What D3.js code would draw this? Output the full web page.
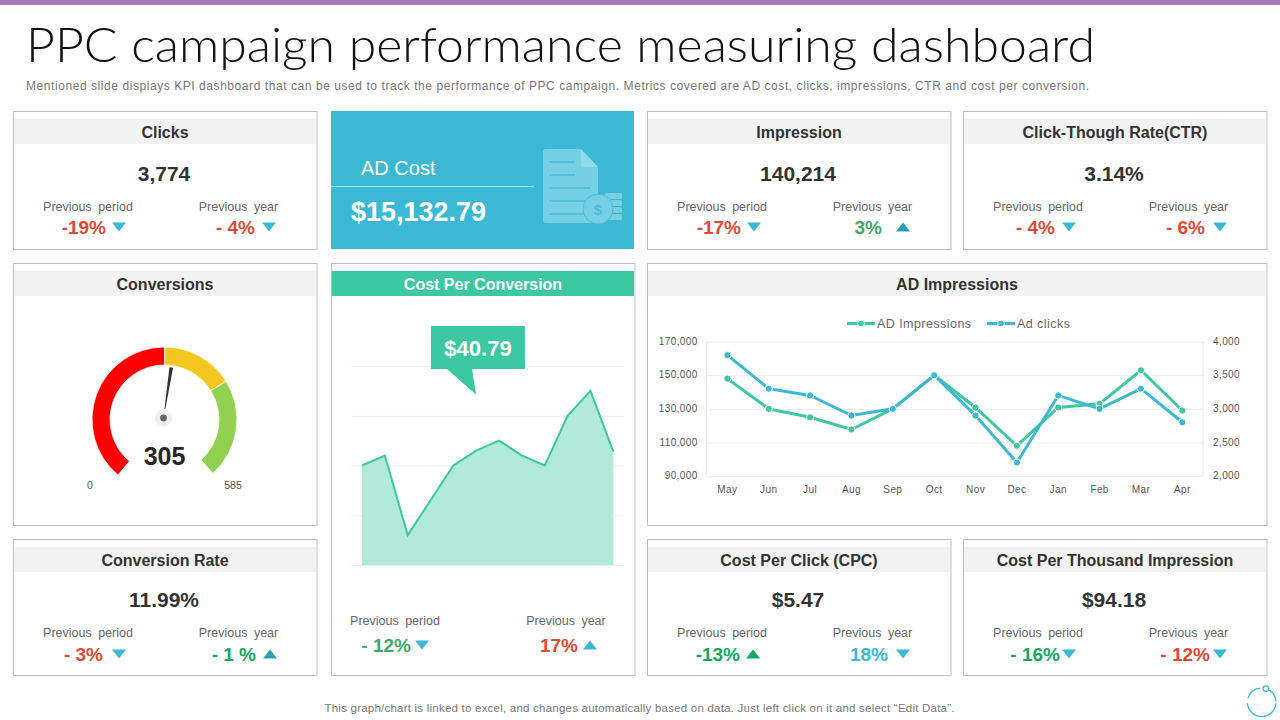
<!DOCTYPE html>
<html>
<head>
<meta charset="utf-8">
<script src="https://cdn.jsdelivr.net/npm/d3@7"></script>
<style>
	html, body { margin: 0; padding: 0; background: #fff; }
	svg { display: block; }
	text { font-family: "Liberation Sans", Arial, sans-serif; }
	.small-tick text { font-size: 10px; fill: #555; letter-spacing: .4px; }
</style>
</head>
<body>
<div id="chart"></div>
<script>
// KPI cards
const kpiTitles = ["Clicks", "Impression", "Click-Though Rate(CTR)", "Conversion Rate", "Cost Per Click (CPC)", "Cost Per Thousand Impression"];
const kpiValues = ["3,774", "140,214", "3.14%", "11.99%", "$5.47", "$94.18"];
const periodChange = ["-19%", "-17%", "- 4%", "- 3%", "-13%", "- 16%"];
const yearChange = ["- 4%", "3%", "- 6%", "- 1 %", "18%", "- 12%"];
const periodArrow = ["down", "down", "down", "down", "up", "down"];
const yearArrow = ["down", "up", "down", "up", "down", "down"];

// gauge
const gaugeSegments = [295, 122, 168];
const gaugeMax = 585;
const gaugeValue = 305;
const gaugeNeedle = 313; // where the needle actually sits in the picture

// cost per conversion area
const costPerConversion = [20, 22, 6, 13, 20, 23, 25, 22, 20, 30, 35, 22.8];
const costTicks = [0, 10, 20, 30, 40];

// ad impressions chart
const months = ["May", "Jun", "Jul", "Aug", "Sep", "Oct", "Nov", "Dec", "Jan", "Feb", "Mar", "Apr"];
const adImpressions = [148000, 130000, 125000, 117700, 130000, 150000, 130800, 108000, 130800, 133000, 153000, 129000];
const adClicks = [3800, 3300, 3200, 2900, 3000, 3500, 2900, 2200, 3200, 3000, 3300, 2800];
const impressionTicks = [90000, 110000, 130000, 150000, 170000];
const clickTicks = [2000, 2500, 3000, 3500, 4000];

const teal = "#3cc8a1", blue = "#3bb9d4", red = "#df4a32", green = "#12a85f", lime = "#3fa966";
const arrowUpDark = "#2a9fbb";

const svg = d3.select("#chart").append("svg")
	.attr("width", 1280)
	.attr("height", 720);

// top band and heading
svg.append("rect").attr("width", 1280).attr("height", 5).attr("fill", "#a57cb9");
svg.append("text").text("PPC campaign performance measuring dashboard")
	.attr("x", 26).attr("y", 62)
	.attr("textLength", 1069).attr("lengthAdjust", "spacingAndGlyphs")
	.style("font-family", "Lato").style("font-weight", 300)
	.style("font-size", "47px").attr("fill", "#111");
svg.append("text").text("Mentioned slide displays KPI dashboard that can be used to track the performance of PPC campaign. Metrics covered are AD cost, clicks, impressions, CTR and cost per conversion.")
	.attr("x", 26).attr("y", 90)
	.attr("textLength", 1063)
	.style("font-size", "12px").attr("fill", "#777");

function card(x, y, w, h) {
	svg.append("rect").attr("x", x + .5).attr("y", y + .5).attr("width", w).attr("height", h)
		.attr("fill", "#fff").attr("stroke", "#bfbfbf").attr("stroke-width", 1);
}

function header(x, y, w, title, bg, color) {
	svg.append("rect").attr("x", x + 1).attr("y", y + 8).attr("width", w - 1).attr("height", 25).attr("fill", bg || "#f2f2f2");
	svg.append("text").text(title)
		.attr("x", x + w / 2 + .5).attr("y", y + 27)
		.attr("text-anchor", "middle")
		.style("font-size", "16px").style("font-weight", "bold")
		.attr("fill", color || "#333");
}

function arrow(cx, cy, dir, color) {
	let s = dir == "up" ? -1 : 1;
	svg.append("path")
		.attr("d", d3.line()([[cx - 7, cy - 4.5 * s], [cx + 7, cy - 4.5 * s], [cx, cy + 4.5 * s]]) + "Z")
		.attr("fill", color);
}

function label(text, cx, cy) {
	svg.append("text").text(text)
		.attr("x", cx).attr("y", cy + 4.5)
		.attr("text-anchor", "middle")
		.style("font-size", "12.5px").style("word-spacing", "3px")
		.attr("fill", "#666");
}

function change(text, endX, cy, color) {
	svg.append("text").text(text)
		.attr("x", endX).attr("y", cy + 7)
		.attr("text-anchor", "end")
		.style("font-size", "19px").style("font-weight", "bold")
		.attr("fill", color);
}

// layout of the six small cards
const cardX = [13, 647, 963, 13, 647, 963];
const cardY = [111, 111, 111, 539, 539, 539];
const periodEnd = [106, 741, 1055, 103, 740, 1060];
const periodTip = [119, 754, 1069, 119, 753, 1069];
const yearEnd = [255, 882, 1205, 256, 888, 1210];
const yearTip = [269, 903, 1220, 270, 903, 1220];
const periodColor = [red, red, red, red, green, green];
const yearColor = [red, lime, red, green, blue, red];
const yearTipColor = [blue, arrowUpDark, blue, arrowUpDark, blue, blue];

kpiTitles.forEach(function (title, i) {
	let x = cardX[i], y = cardY[i];
	let top = y < 300;
	let h = top ? 138 : 136;
	card(x, y, 303.5, h);
	header(x, y, 303, title);
	svg.append("text").text(kpiValues[i])
		.attr("x", x + 151).attr("y", y + (top ? 70 : 68))
		.attr("text-anchor", "middle")
		.style("font-size", "21px").style("font-weight", "bold").attr("fill", "#333");
	let labelY = y + (top ? 95 : 93);
	let valueY = y + (top ? 116 : 115);
	label("Previous period", x + 75, labelY);
	label("Previous year", x + 225.5, labelY);
	change(periodChange[i], periodEnd[i], valueY, periodColor[i]);
	change(yearChange[i], yearEnd[i], valueY, yearColor[i]);
	arrow(periodTip[i], valueY, periodArrow[i], periodArrow[i] == "up" ? green : blue);
	arrow(yearTip[i], valueY, yearArrow[i], yearTipColor[i]);
});

// AD cost tile
svg.append("rect").attr("x", 331).attr("y", 111).attr("width", 303).attr("height", 138).attr("fill", blue);
svg.append("text").text("AD Cost").attr("x", 361).attr("y", 175)
	.style("font-size", "20px").attr("fill", "#fff");
svg.append("line").attr("x1", 331).attr("x2", 534).attr("y1", 186.5).attr("y2", 186.5)
	.attr("stroke", "#fff").attr("stroke-opacity", .55);
svg.append("text").text("$15,132.79").attr("x", 351).attr("y", 221)
	.style("font-size", "27px").style("font-weight", "bold").attr("fill", "#fff");

// document icon
let icon = svg.append("g");
const iconFill = "#76d0e3", iconLine = "#4dbdd7";
icon.append("path").attr("d", "M546,149 H580 L598,167 V220 Q598,223 595,223 H546 Q543,223 543,220 V152 Q543,149 546,149 Z").attr("fill", iconFill);
icon.append("path").attr("d", "M581,149 L598,167 H584 Q581,167 581,164 Z").attr("fill", "#8fd9e8");
[[162, 575], [175, 575], [188, 590], [201, 590], [214, 590]].forEach(function (d) {
	icon.append("line").attr("x1", 549).attr("x2", d[1]).attr("y1", d[0]).attr("y2", d[0])
		.attr("stroke", iconLine).attr("stroke-width", 1.5);
});
[193, 200, 207, 214].forEach(function (y) {
	icon.append("rect").attr("x", 605).attr("y", y).attr("width", 17).attr("height", 6).attr("rx", 1.5).attr("fill", iconFill);
});
icon.append("circle").attr("cx", 598).attr("cy", 209).attr("r", 15).attr("fill", iconFill).attr("stroke", iconLine).attr("stroke-width", 1);
icon.append("text").text("$").attr("x", 598).attr("y", 214.5).attr("text-anchor", "middle")
	.style("font-size", "15px").style("font-weight", "bold").attr("fill", iconLine);

// conversions gauge
card(13, 263, 303.5, 262);
header(13, 263, 303, "Conversions");
let gaugeCx = 164.5, gaugeCy = 419.5;
let gaugeAngle = d3.scaleLinear().domain([0, gaugeMax]).range([-140, 138]);
let gaugeColors = ["#ff0000", "#f4c61f", "#92d14f"];
let gaugeArc = d3.arc().innerRadius(54.5).outerRadius(72.5);
let pie = d3.pie().sort(null)
	.startAngle(gaugeAngle(0) * Math.PI / 180)
	.endAngle(gaugeAngle(gaugeMax) * Math.PI / 180);
let gauge = svg.append("g").attr("transform", "translate(" + gaugeCx + "," + gaugeCy + ")");
gauge.selectAll("path").data(pie(gaugeSegments)).enter().append("path")
	.attr("d", gaugeArc)
	.attr("fill", function (d, i) { return gaugeColors[i]; })
	.attr("stroke", "#fff").attr("stroke-width", .8);
gauge.append("circle").attr("cx", -1).attr("cy", -1.5).attr("r", 8.5).attr("fill", "#efefef");
gauge.append("circle").attr("cx", -1).attr("cy", -1.5).attr("r", 3.4).attr("fill", "#666");
gauge.append("path")
	.attr("d", "M-.4,-9 L.4,-9 L1.8,-51 L-1.8,-51 Z")
	.attr("transform", "translate(-1,-1.5) rotate(" + gaugeAngle(gaugeNeedle) + ")")
	.attr("fill", "#333");
svg.append("text").text(gaugeValue).attr("x", 164.5).attr("y", 464.5).attr("text-anchor", "middle")
	.style("font-size", "25px").style("font-weight", "bold").attr("fill", "#262626");
svg.append("text").text(0).attr("x", 90).attr("y", 489).attr("text-anchor", "middle")
	.style("font-size", "10.5px").attr("fill", "#555");
svg.append("text").text(gaugeMax).attr("x", 233).attr("y", 489).attr("text-anchor", "middle")
	.style("font-size", "10.5px").attr("fill", "#555");

// cost per conversion
card(331, 263, 303.5, 412);
header(331, 263, 303, "Cost Per Conversion", teal, "#fff");
let areaX = d3.scalePoint().domain(d3.range(costPerConversion.length)).range([362, 613.3]);
let areaY = d3.scaleLinear().domain([0, 40]).range([565, 366]);
svg.append("g").attr("class", "cost-grid")
	.attr("transform", "translate(351,0)")
	.call(d3.axisRight(areaY).tickValues(costTicks).tickSize(273).tickFormat(""))
	.call(function (g) { g.select(".domain").remove(); })
	.selectAll("line").attr("stroke", "#eeeeee");
svg.append("path").datum(costPerConversion)
	.attr("d", d3.area().x(function (d, i) { return areaX(i); }).y0(areaY(0)).y1(function (d) { return areaY(d); }))
	.attr("fill", "#b2ead9");
svg.append("path").datum(costPerConversion)
	.attr("d", d3.line().x(function (d, i) { return areaX(i); }).y(function (d) { return areaY(d); }))
	.attr("fill", "none").attr("stroke", teal).attr("stroke-width", 2);
svg.append("path").attr("d", "M431,326 H525 V369 H472 L476,394.5 L447,369 H431 Z").attr("fill", teal);
svg.append("text").text("$40.79").attr("x", 478).attr("y", 356).attr("text-anchor", "middle")
	.style("font-size", "22px").style("font-weight", "bold").attr("fill", "#fff");
label("Previous period", 395, 620);
label("Previous year", 566, 620);
change("- 12%", 411, 645, lime);
change("17%", 578, 645, red);
arrow(422, 645, "down", blue);
arrow(590, 645, "up", blue);

// ad impressions
card(647, 263, 619.5, 262);
header(647, 263, 619, "AD Impressions");
let lineX = d3.scaleBand().domain(months).range([706.7, 1203]);
let yLeft = d3.scaleLinear().domain([90000, 170000]).range([476, 341.7]);
let yRight = d3.scaleLinear().domain([2000, 4000]).range([476, 341.7]);

svg.append("g").attr("transform", "translate(706.7,0)")
	.call(d3.axisRight(yLeft).tickValues(impressionTicks).tickSize(496.3).tickFormat(""))
	.call(function (g) { g.select(".domain").remove(); })
	.selectAll("line").attr("stroke", "#eeeeee");
svg.append("line").attr("x1", 706.7).attr("x2", 706.7).attr("y1", 341.7).attr("y2", 476).attr("stroke", "#e8e8e8");
svg.append("line").attr("x1", 1203).attr("x2", 1203).attr("y1", 341.7).attr("y2", 476).attr("stroke", "#e8e8e8");

svg.append("g").attr("class", "small-tick").attr("transform", "translate(706.7,-.5)")
	.call(d3.axisLeft(yLeft).tickValues(impressionTicks).tickSize(0).tickPadding(9).tickFormat(d3.format(",")))
	.call(function (g) { g.select(".domain").remove(); });
svg.append("g").attr("class", "small-tick").attr("transform", "translate(1203,-.5)")
	.call(d3.axisRight(yRight).tickValues(clickTicks).tickSize(0).tickPadding(10).tickFormat(d3.format(",")))
	.call(function (g) { g.select(".domain").remove(); });
svg.append("g").attr("class", "small-tick").attr("transform", "translate(0,476)")
	.call(d3.axisBottom(lineX).tickSize(0).tickPadding(10))
	.call(function (g) { g.select(".domain").remove(); });

function drawSeries(values, scale, color) {
	let line = d3.line()
		.x(function (d, i) { return lineX(months[i]) + lineX.bandwidth() / 2; })
		.y(function (d) { return scale(d); });
	svg.append("path").datum(values).attr("d", line)
		.attr("fill", "none").attr("stroke", color).attr("stroke-width", 3);
	svg.append("g").selectAll("circle").data(values).enter().append("circle")
		.attr("cx", function (d, i) { return lineX(months[i]) + lineX.bandwidth() / 2; })
		.attr("cy", function (d) { return scale(d); })
		.attr("r", 3.6)
		.attr("fill", color).attr("stroke", "#fff").attr("stroke-width", 1);
}
drawSeries(adImpressions, yLeft, teal);
drawSeries(adClicks, yRight, blue);

// legend
[["AD Impressions", 847, teal], ["Ad clicks", 987, blue]].forEach(function (d) {
	svg.append("line").attr("x1", d[1]).attr("x2", d[1] + 28).attr("y1", 323.5).attr("y2", 323.5)
		.attr("stroke", d[2]).attr("stroke-width", 3);
	svg.append("circle").attr("cx", d[1] + 14).attr("cy", 323.5).attr("r", 3.4)
		.attr("fill", d[2]).attr("stroke", "#fff").attr("stroke-width", 1);
	svg.append("text").text(d[0]).attr("x", d[1] + 30).attr("y", 328)
		.style("font-size", "12.5px").style("letter-spacing", ".45px").attr("fill", "#666");
});

// footer
svg.append("text").text("This graph/chart is linked to excel, and changes automatically based on data. Just left click on it and select \u201cEdit Data\u201d.")
	.attr("x", 639.5).attr("y", 712).attr("text-anchor", "middle")
	.attr("textLength", 630)
	.style("font-size", "11.5px").attr("fill", "#777");

// logo ring
let logo = svg.append("g").attr("transform", "translate(1261.7,702.3)").attr("fill", "none").attr("stroke", blue).attr("stroke-width", 1.3);
let ring = d3.arc().innerRadius(14.3).outerRadius(14.3);
[[-73, -7], [32, 87], [94, 266]].forEach(function (d) {
	logo.append("path").attr("d", ring({ startAngle: d[0] * Math.PI / 180, endAngle: d[1] * Math.PI / 180 }));
});
logo.append("circle").attr("cx", 4.2).attr("cy", -13.7).attr("r", 2.8).attr("fill", "#fff");
</script>
</body>
</html>
